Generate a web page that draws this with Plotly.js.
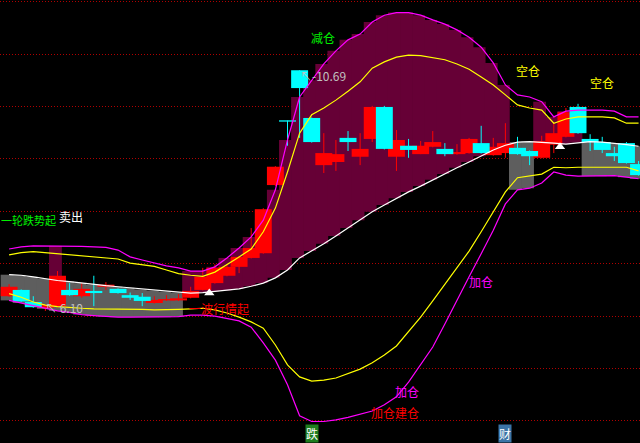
<!DOCTYPE html>
<html><head><meta charset="utf-8">
<script src="https://cdn.plot.ly/plotly-3.0.1.min.js"></script>
<style>html,body{margin:0;padding:0;background:#000;}#chart{width:640px;height:443px;}</style>
</head><body><div id="chart"></div>
<script>
// ---- candle data (bar index 0..52) ----
const openP = [6.38,6.50,6.27,6.16,6.19,6.50,6.38,6.48,6.56,6.52,
 6.40,6.37,6.25,6.30,6.30,6.35,6.50,6.63,6.77,6.94,
 7.11,7.20,8.50,9.72,10.69,9.78,8.88,8.94,9.40,9.04,
 9.38,9.99,9.04,9.25,9.09,9.23,9.19,9.09,9.11,9.30,
 9.07,9.11,9.21,9.15,9.02,9.27,9.42,9.99,9.38,9.32,
 9.11,9.30,8.90];
const highP = [6.61,6.51,6.38,6.22,6.86,6.63,6.63,6.77,6.65,6.53,
 6.45,6.44,6.38,6.40,6.42,6.56,6.92,6.99,6.98,7.15,
 7.68,8.06,8.86,9.73,10.69,9.79,9.49,9.36,9.53,9.49,
 10.01,10.01,9.55,9.38,9.34,9.53,9.30,9.28,9.40,9.63,
 9.40,9.68,9.42,9.16,9.44,9.68,9.97,10.05,9.47,9.42,
 9.23,9.32,8.96];
const lowP = [6.37,6.27,6.16,6.10,6.16,6.39,6.35,6.19,6.50,6.43,
 6.31,6.19,6.24,6.29,6.29,6.34,6.49,6.62,6.76,6.82,
 7.10,7.19,8.48,9.25,9.40,9.31,8.73,8.77,9.15,8.88,
 9.32,9.18,8.77,9.02,9.09,9.22,9.05,9.08,9.10,9.10,
 9.06,9.02,9.08,8.88,9.01,9.11,9.41,9.48,9.15,9.11,
 8.96,8.91,8.68];
const closeP = [6.56,6.28,6.17,6.21,6.77,6.40,6.52,6.44,6.60,6.44,
 6.35,6.29,6.31,6.32,6.34,6.48,6.75,6.92,6.94,7.13,
 7.30,8.04,8.85,9.71,10.35,9.32,9.11,9.09,9.32,9.19,
 9.99,9.19,9.36,9.17,9.25,9.32,9.09,9.13,9.38,9.11,
 9.23,9.30,9.09,9.05,9.34,9.49,9.89,9.49,9.32,9.17,
 9.05,8.92,8.69];

// ---- indicator lines ----
const upper1 = [7.28,7.32,7.34,7.34,7.34,7.34,7.33,7.32,7.31,7.26,
 7.13,7.07,7.01,6.96,6.92,6.86,6.86,6.94,7.11,7.30,
 7.51,7.83,8.41,9.36,10.18,10.50,10.81,11.06,11.27,11.38,
 11.61,11.74,11.79,11.79,11.74,11.65,11.57,11.46,11.32,11.13,
 10.83,10.41,10.22,10.18,10.09,9.80,9.91,9.93,9.93,9.93,
 9.91,9.80,9.80];
const upper2 = [7.17,7.21,7.23,7.21,7.20,7.18,7.16,7.13,7.11,7.09,
 7.01,6.98,6.95,6.88,6.81,6.78,6.76,6.84,6.98,7.13,
 7.28,7.61,8.06,8.75,9.49,9.84,9.97,10.12,10.29,10.47,
 10.73,10.85,10.94,10.98,10.97,10.93,10.89,10.81,10.71,10.56,
 10.41,10.22,10.03,9.97,9.93,9.68,9.76,9.80,9.80,9.80,
 9.78,9.68,9.68];
const mid = [6.79,6.78,6.75,6.71,6.68,6.66,6.63,6.60,6.58,6.56,
 6.54,6.51,6.49,6.47,6.45,6.44,6.45,6.47,6.49,6.52,
 6.57,6.63,6.73,6.88,7.11,7.24,7.38,7.53,7.68,7.83,
 7.99,8.12,8.25,8.37,8.48,8.60,8.71,8.83,8.94,9.05,
 9.17,9.26,9.32,9.33,9.32,9.30,9.28,9.31,9.33,9.32,
 9.30,9.27,9.24];
const lower2 = [6.43,6.36,6.27,6.21,6.18,6.16,6.15,6.14,6.14,6.14,
 6.14,6.13,6.12,6.12,6.13,6.14,6.15,6.12,6.06,5.98,
 5.89,5.77,5.45,5.07,4.84,4.76,4.78,4.82,4.90,4.99,
 5.11,5.26,5.43,5.70,5.98,6.29,6.61,6.94,7.24,7.61,
 7.99,8.37,8.64,8.67,8.71,8.84,8.83,8.84,8.84,8.84,
 8.84,8.84,8.77];
const lower1 = [6.30,6.25,6.20,6.14,6.10,6.07,6.03,6.01,5.99,5.98,
 5.98,5.98,5.98,5.98,5.99,6.02,6.02,6.00,5.96,5.91,
 5.79,5.49,5.16,4.69,4.10,3.99,3.99,4.02,4.07,4.13,
 4.19,4.31,4.46,4.74,5.07,5.41,5.85,6.31,6.75,7.19,
 7.64,8.14,8.41,8.44,8.54,8.75,8.69,8.67,8.67,8.67,
 8.68,8.65,8.62];
// per-bar zone state: G = weak (grey below mid), M = strong (maroon above mid), B = both
const zone = ("GGGG" + "B" + "GGGGGGGGGG" + "MMMMMMMMM" + "MMMMMMMMM" + "MMMMMMMMM" + "GG" + "MMMM" + "GGGGG").split("");

// ---- signals & labels ----
const signalK = [16.54, 45.51];
const signalP = [6.44, 9.23];
const labelText  = ["减仓", "↖-10.69", "↖ 6.10", "空仓", "空仓", "一轮跌势起", "卖出", "一波行情起", "加仓", "加仓", "加仓建仓"];
const labelK     = [25.93, 23.95, 2.88, 42.87, 48.94, -0.72, 4.00, 17.34, 38.98, 32.87, 31.88];
const labelP     = [11.31, 10.59, 6.16, 10.69, 10.45, 7.83, 7.91, 6.14, 6.67, 4.57, 4.17];
const labelColor = ["#00f000", "#c0c0c0", "#c0c0c0", "#ffff00", "#ffff00", "#00f000", "#ffffff", "#ff0000", "#ff00ff", "#ff00ff", "#ff0000"];
const labelAnchor = ["center", "left", "left", "center", "center", "left", "left", "center", "center", "center", "center"];
const labelSize  = [12, 12, 12, 12, 12, 11, 12, 12, 12, 12, 12];
const eventK = [25, 41];
const eventText = ["跌", "财"];
const eventColor = ["#1e7d1e", "#3b74a6"];

// ---- build traces ----
const gX=[],gB=[],gH=[],mX=[],mB=[],mH=[];
zone.forEach((z,i)=>{
  if(z==='G'||z==='B'){gX.push(i);gB.push(lower1[i]);gH.push(mid[i]-lower1[i]);}
  if(z==='M'||z==='B'){mX.push(i);mB.push(mid[i]);mH.push(upper1[i]-mid[i]);}
});
const rX=[],rB=[],rH=[],cX=[],cB=[],cH=[],rwX=[],rwY=[],cwX=[],cwY=[];
openP.forEach((o,i)=>{
  const c=closeP[i], up=c>=o, lo=Math.min(o,c), h=Math.max(Math.abs(c-o),0.025);
  if(up){rX.push(i);rB.push(lo);rH.push(h);rwX.push(i,i,null);rwY.push(lowP[i],highP[i],null);}
  else {cX.push(i);cB.push(lo);cH.push(h);cwX.push(i,i,null);cwY.push(lowP[i],highP[i],null);}
});
const idx = mid.map((_,i)=>i);
const bgBar=(x,b,h,col)=>({type:'bar',x:x,base:b,y:h,width:1.06,offset:-0.7,marker:{color:col,line:{width:0}},hoverinfo:'skip'});
const body=(x,b,h,col)=>({type:'bar',x:x,base:b,y:h,width:1.4,marker:{color:col,line:{width:0}},hoverinfo:'skip'});
const wick=(x,y,col)=>({type:'scatter',mode:'lines',x:x,y:y,line:{color:col,width:1},hoverinfo:'skip'});
const line=(y,col)=>({type:'scatter',mode:'lines',x:idx,y:y,line:{color:col,width:1.2},hoverinfo:'skip'});

const traces=[
  bgBar(gX,gB,gH,'#5e5e5e'),
  bgBar(mX,mB,mH,'#660036'),
  body(rX,rB,rH,'#ff0000'),
  body(cX,cB,cH,'#00ffff'),
  wick(rwX,rwY,'#ff0000'),
  wick(cwX,cwY,'#00ffff'),
  line(lower1,'#ff00ff'),
  line(lower2,'#ffff00'),
  line(upper1,'#ff00ff'),
  line(upper2,'#ffff00'),
  line(mid,'#ffffff'),
  {type:'scatter',mode:'markers',x:signalK,y:signalP,marker:{symbol:'triangle-up',size:9,color:'#ffffff'},hoverinfo:'skip'}
];

const ann = labelText.map((t,i)=>({x:labelK[i],y:labelP[i],xref:'x',yref:'y',text:t,showarrow:false,
  xanchor:labelAnchor[i],yanchor:'middle',borderpad:0,font:{family:'Noto Sans CJK SC',size:labelSize[i],color:labelColor[i]}}));
eventK.forEach((k,i)=>ann.push({x:k,y:0,xref:'x',yref:'paper',yanchor:'bottom',text:eventText[i],showarrow:false,
  bgcolor:eventColor[i],borderpad:0,font:{family:'Noto Sans CJK SC',size:12,color:'#ffffff'}}));

const layout={
  width:640,height:443,margin:{l:0,r:0,t:0,b:0},
  paper_bgcolor:'#000',plot_bgcolor:'#000',showlegend:false,barmode:'overlay',
  xaxis:{range:[-0.75,52.12],visible:false,fixedrange:true},
  yaxis:{range:[3.58,12.03],showticklabels:false,ticks:'',zeroline:false,showline:false,
    showgrid:true,tick0:0,dtick:1,gridcolor:'#b00000',gridwidth:1,griddash:'1px,2px',fixedrange:true},
  annotations:ann
};
Plotly.newPlot('chart',traces,layout,{staticPlot:true,displayModeBar:false});
</script></body></html>
